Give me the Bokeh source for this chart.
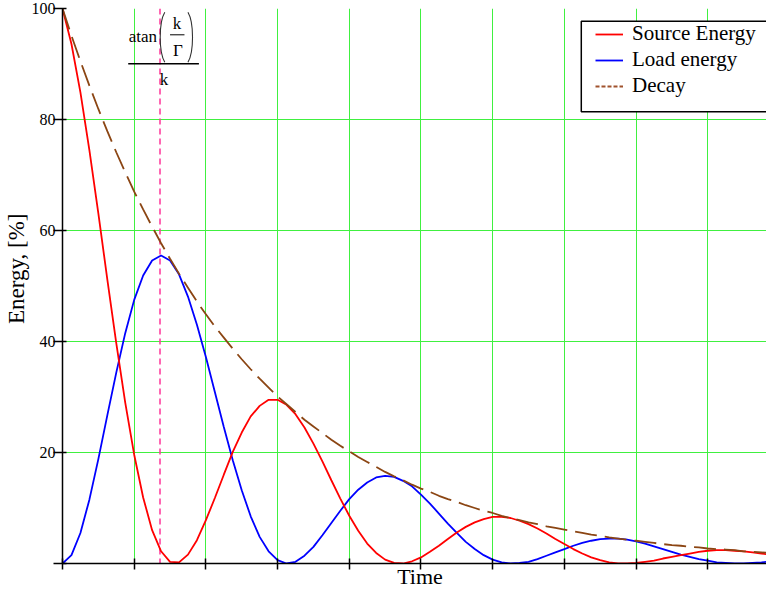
from math import pi
from bokeh.plotting import figure
from bokeh.models import (Range1d, FixedTicker, Label, Legend, LegendItem, Span,
                          BoxAnnotation, ColumnDataSource)
from bokeh.embed import file_html
from bokeh.resources import INLINE

# ---------------- data ----------------
time = [0.0, 0.125, 0.25, 0.375, 0.5, 0.625, 0.75, 0.875, 1.0, 1.125,
        1.25, 1.375, 1.5, 1.625, 1.75, 1.875, 2.0, 2.125, 2.25, 2.375,
        2.5, 2.625, 2.75, 2.875, 3.0, 3.125, 3.25, 3.375, 3.5, 3.625,
        3.75, 3.875, 4.0, 4.125, 4.25, 4.375, 4.5, 4.625, 4.75, 4.875,
        5.0, 5.125, 5.25, 5.375, 5.5, 5.625, 5.75, 5.875, 6.0, 6.125,
        6.25, 6.375, 6.5, 6.625, 6.75, 6.875, 7.0, 7.125, 7.25, 7.375,
        7.5, 7.625, 7.75, 7.875, 8.0, 8.125, 8.25, 8.375, 8.5, 8.625,
        8.75, 8.875, 9.0, 9.125, 9.25, 9.375, 9.5, 9.625, 9.75, 9.875,
        10.0]

source_energy = [100.0, 93.6, 84.9, 74.5, 63.1, 51.2, 39.7, 29.0, 19.6, 11.9,
                 6.0, 2.2, 0.3, 0.2, 1.6, 4.2, 7.8, 11.8, 16.0, 20.1,
                 23.6, 26.5, 28.4, 29.5, 29.5, 28.6, 26.9, 24.5, 21.6, 18.4,
                 15.0, 11.7, 8.6, 5.9, 3.6, 1.9, 0.7, 0.1, 0.0, 0.4,
                 1.1, 2.1, 3.2, 4.4, 5.6, 6.6, 7.4, 8.0, 8.4, 8.4,
                 8.2, 7.7, 7.1, 6.3, 5.4, 4.4, 3.5, 2.6, 1.8, 1.1,
                 0.6, 0.2, 0.0, 0.0, 0.1, 0.3, 0.5, 0.9, 1.2, 1.5,
                 1.8, 2.1, 2.3, 2.4, 2.4, 2.3, 2.2, 2.0, 1.8, 1.6,
                 1.3]

load_energy = [0.0, 1.5, 5.5, 11.5, 18.8, 26.7, 34.4, 41.5, 47.5, 51.9,
               54.6, 55.5, 54.6, 52.1, 48.1, 43.0, 37.2, 30.9, 24.6, 18.6,
               13.2, 8.5, 4.8, 2.2, 0.6, 0.0, 0.3, 1.4, 3.0, 5.1,
               7.3, 9.5, 11.6, 13.3, 14.6, 15.5, 15.8, 15.6, 14.9, 13.9,
               12.4, 10.8, 9.0, 7.2, 5.5, 3.9, 2.6, 1.5, 0.7, 0.2,
               0.0, 0.1, 0.3, 0.8, 1.4, 2.0, 2.6, 3.2, 3.7, 4.1,
               4.4, 4.5, 4.5, 4.3, 4.0, 3.6, 3.1, 2.6, 2.1, 1.6,
               1.2, 0.8, 0.5, 0.2, 0.1, 0.0, 0.0, 0.1, 0.2, 0.4,
               0.5]

decay = [100.0, 95.1, 90.5, 86.1, 81.9, 77.9, 74.1, 70.5, 67.0, 63.8,
         60.7, 57.7, 54.9, 52.2, 49.7, 47.2, 44.9, 42.7, 40.7, 38.7,
         36.8, 35.0, 33.3, 31.7, 30.1, 28.7, 27.3, 25.9, 24.7, 23.5,
         22.3, 21.2, 20.2, 19.2, 18.3, 17.4, 16.5, 15.7, 15.0, 14.2,
         13.5, 12.9, 12.2, 11.6, 11.1, 10.5, 10.0, 9.5, 9.1, 8.6,
         8.2, 7.8, 7.4, 7.1, 6.7, 6.4, 6.1, 5.8, 5.5, 5.2,
         5.0, 4.7, 4.5, 4.3, 4.1, 3.9, 3.7, 3.5, 3.3, 3.2,
         3.0, 2.9, 2.7, 2.6, 2.5, 2.4, 2.2, 2.1, 2.0, 1.9,
         1.8]

peak_time = 1.36          # atan(k/Γ)/k marker
x_ticks = [0, 1, 2, 3, 4, 5, 6, 7, 8, 9]
y_ticks = [0, 20, 40, 60, 80, 100]
series_names = ["Source Energy", "Load energy", "Decay"]
x_title = "Time"
y_title = "Energy, [%]"

# ---------------- layout helpers (canvas pixels -> data) ----------------
FRAME_LEFT, FRAME_TOP, FRAME_BOTTOM, PX_X = 59, 8, 563, 72.0
W, H = 766, 591
PX_Y = (FRAME_BOTTOM - FRAME_TOP) / 100.0


def dx(px):
    return (px - FRAME_LEFT) / PX_X


def dy(py):
    return (FRAME_BOTTOM - py) / PX_Y


SERIF = "Liberation Serif"
NB = "\u00a0"

p = figure(width=W, height=H,
           x_range=Range1d(0, (W - FRAME_LEFT) / PX_X), y_range=Range1d(0, 100),
           output_backend="svg", toolbar_location=None,
           min_border_left=FRAME_LEFT, min_border_right=0,
           min_border_top=FRAME_TOP, min_border_bottom=H - FRAME_BOTTOM)
p.outline_line_color = None
p.background_fill_color = "white"
p.border_fill_color = "white"

xt = FixedTicker(ticks=x_ticks)
yt = FixedTicker(ticks=y_ticks)
p.xaxis.ticker = xt
p.yaxis.ticker = yt
p.xgrid.ticker = xt
p.ygrid.ticker = yt
p.xgrid.grid_line_color = "#40f040"
p.ygrid.grid_line_color = "#40f040"
p.xgrid.grid_line_width = 1
p.ygrid.grid_line_width = 1

for ax in (p.xaxis[0], p.yaxis[0]):
    ax.axis_line_color = "black"
    ax.axis_line_width = 1.5
    ax.major_tick_line_color = "black"
    ax.major_tick_line_width = 1.5
    ax.minor_tick_line_color = None
    ax.axis_label_text_font = SERIF
    ax.axis_label_text_font_style = "normal"
    ax.axis_label_text_color = "black"

p.xaxis.major_tick_in = 5
p.xaxis.major_tick_out = 6
p.xaxis.major_label_overrides = {t: "" for t in x_ticks}
p.xaxis.major_label_standoff = 0
p.xaxis.axis_label = NB * 2 + x_title
p.xaxis.axis_label_standoff = -6
p.xaxis.axis_label_text_font_size = "22px"

p.yaxis.major_tick_in = 4
p.yaxis.major_tick_out = 9
p.yaxis.major_label_standoff = -2
p.yaxis.major_label_overrides = {0: ""}
p.yaxis.major_label_text_font = SERIF
p.yaxis.major_label_text_font_size = "16px"
p.yaxis.major_label_text_color = "black"
p.yaxis.axis_label = NB * 6 + y_title
p.yaxis.axis_label_standoff = 0
p.yaxis.axis_label_text_font_size = "23px"

# marker line
p.add_layout(Span(location=peak_time, dimension="height", line_color="#ff3399",
                  line_dash="6 4", line_width=1.5, level="underlay"))

nan = float("nan")
src = ColumnDataSource(dict(time=time, source=source_energy,
                            load=load_energy, decay=decay))
r_load = p.line("time", "load", source=src, line_color="#0000ff", line_width=1.8)
r_src = p.line("time", "source", source=src, line_color="#ff0000", line_width=1.8)
r_dec = p.line("time", "decay", source=src, line_color="#8b4513",
               line_width=1.8, line_dash="22 8")
r_dec_leg = p.line(x=[nan, nan], y=[nan, nan], line_color="#a0522d",
                   line_width=2, line_dash="4 2")

# legend box + legend
p.add_layout(BoxAnnotation(left=dx(580), right=dx(900), top=dy(20.7), bottom=dy(111.3),
                           fill_color="white", fill_alpha=1, line_color="black",
                           line_alpha=1, line_width=1.5))
legend = Legend(items=[LegendItem(label=series_names[0], renderers=[r_src]),
                       LegendItem(label=series_names[1], renderers=[r_load]),
                       LegendItem(label=series_names[2], renderers=[r_dec_leg])],
                location=(533, 465), padding=0, spacing=1, margin=0,
                glyph_width=28, glyph_height=20, label_height=20, label_standoff=9,
                label_text_font=SERIF, label_text_font_size="21px",
                label_text_color="black",
                border_line_alpha=0, background_fill_alpha=0)
p.add_layout(legend)

# formula atan(k/Γ)/k
fs = "17px"
for (px, py, t, al) in [(125.5, 35.5, "atan", "left"), (174, 23, "k", "center"),
                        (175, 50, "Γ", "center"), (161, 79, "k", "center")]:
    p.add_layout(Label(x=dx(px), y=dy(py), text=t, text_align=al,
                       text_baseline="alphabetic", text_font=SERIF,
                       text_font_size=fs, text_color="black"))
p.segment(x0=[dx(167), dx(125)], y0=[dy(34.3), dy(63.3)],
          x1=[dx(181.5), dx(196)], y1=[dy(34.3), dy(63.3)],
          line_color="black", line_width=[1.0, 1.4])
p.bezier(x0=[dx(161.7), dx(185)], y0=[dy(11.7), dy(11.7)],
         x1=[dx(161.7), dx(185)], y1=[dy(61.7), dy(61.7)],
         cx0=[dx(155.6), dx(191.1)], cy0=[dy(22), dy(22)],
         cx1=[dx(155.6), dx(191.1)], cy1=[dy(51.4), dy(51.4)],
         line_color="#333333", line_width=1.1)

open("out.html", "w").write(file_html(p, INLINE))
